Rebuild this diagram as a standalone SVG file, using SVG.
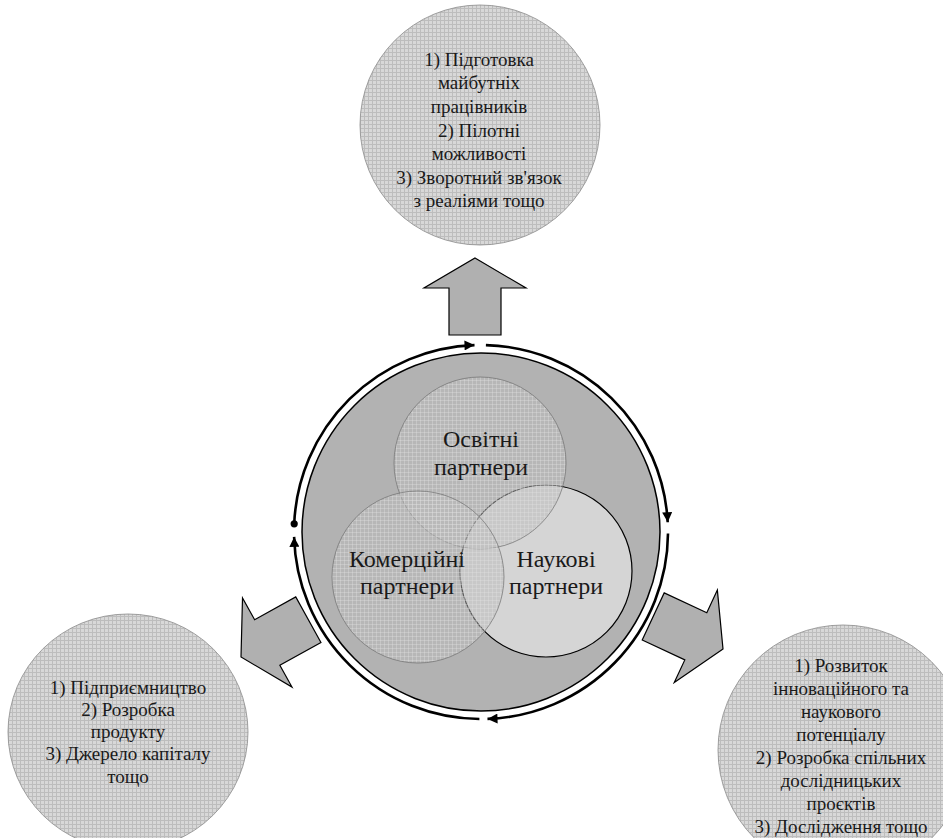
<svg xmlns="http://www.w3.org/2000/svg" width="943" height="838" viewBox="0 0 943 838">
<defs>
<pattern id="grid" width="4" height="4" patternUnits="userSpaceOnUse">
<rect width="4" height="4" fill="#d8d8d8"/>
<path d="M0,0.5 H4 M0.5,0 V4" stroke="#bdbdbd" stroke-width="1"/>
</pattern>
<pattern id="igrid" width="4" height="4" patternUnits="userSpaceOnUse">
<rect width="4" height="4" fill="#bcbcbc" fill-opacity="0.5"/>
<path d="M0,0.5 H4 M0.5,0 V4" stroke="#e2e2e2" stroke-opacity="0.35" stroke-width="1"/>
</pattern>
<marker id="ah" viewBox="0 0 10 10" refX="10" refY="5" markerWidth="13" markerHeight="10" markerUnits="userSpaceOnUse" orient="auto">
<path d="M0,0 L10,5 L0,10 z" fill="#000"/>
</marker>
<polygon id="blk" points="0,0 51,30 26,30 26,77 -26,77 -26,30 -51,30"/>
</defs>
<style>
.outer{fill:url(#grid);stroke:#8a8a8a;stroke-width:0.8}
.inner{fill:url(#igrid);stroke:#6e6e6e;stroke-width:0.7}
.blk{fill:#b0b0b0;stroke:#000;stroke-width:1.2;stroke-linejoin:miter}
.ring{fill:none;stroke:#000;stroke-width:2.6;marker-end:url(#ah)}
text{font-family:'Times New Roman','Liberation Serif','Noto Serif','DejaVu Serif',serif;fill:#1a1a1a;text-anchor:middle}
.s{font-size:19px}
.b{font-size:24px}
</style>
<rect width="943" height="838" fill="#fff"/>

<g id="core">
<circle cx="481" cy="532" r="179" fill="#b2b2b2" stroke="#000" stroke-width="1.5"/>
</g>
<g id="naukovi">
<circle cx="546" cy="571" r="86" fill="#d5d5d5" stroke="#000" stroke-width="1.2"/>
</g>
<g id="osvitni">
<circle class="inner" cx="480" cy="463" r="86"/>
</g>
<g id="komertsiini">
<circle class="inner" cx="418" cy="577" r="86"/>
</g>
<g id="labels-inner" class="b">
<text x="481" y="447">Освітні</text>
<text x="481" y="475">партнери</text>
<text x="407" y="567">Комерційні</text>
<text x="407" y="594">партнери</text>
<text x="556" y="567">Наукові</text>
<text x="556" y="594">партнери</text>
</g>

<g id="connectors">
<path class="ring" d="M485.9,345.1 A187,187 0 0 1 667.7,522.2"/>
<path class="ring" d="M668,533.6 A187,187 0 0 1 487.5,718.9"/>
<path class="ring" d="M479.4,719 A187,187 0 0 1 294.1,536.9"/>
<path class="ring" d="M294.2,523.8 A187,187 0 0 1 474.5,345.1"/>
<circle cx="294.2" cy="523.8" r="3.6" fill="#000"/>
<use href="#blk" class="blk" transform="translate(475,258)"/>
<use href="#blk" class="blk" transform="translate(241,657) rotate(-119)"/>
<use href="#blk" class="blk" transform="translate(723,649) rotate(115)"/>
</g>

<g id="top" class="s">
<circle class="outer" cx="480" cy="125" r="120"/>
<text x="479" y="66">1) Підготовка</text>
<text x="479" y="89">майбутніх</text>
<text x="479" y="113">працівників</text>
<text x="479" y="137">2) Пілотні</text>
<text x="479" y="160">можливості</text>
<text x="479" y="184">3) Зворотний зв'язок</text>
<text x="479" y="207">з реаліями тощо</text>
</g>

<g id="left" class="s">
<ellipse class="outer" cx="128" cy="732" rx="120" ry="118"/>
<text x="128" y="694">1) Підприємництво</text>
<text x="128" y="716">2) Розробка</text>
<text x="128" y="738">продукту</text>
<text x="128" y="760">3) Джерело капіталу</text>
<text x="128" y="783">тощо</text>
</g>

<g id="right" class="s">
<circle class="outer" cx="843" cy="750" r="125"/>
<text x="841" y="672">1) Розвиток</text>
<text x="841" y="695">інноваційного та</text>
<text x="841" y="718">наукового</text>
<text x="841" y="741">потенціалу</text>
<text x="841" y="764">2) Розробка спільних</text>
<text x="841" y="787">дослідницьких</text>
<text x="841" y="810">проєктів</text>
<text x="841" y="833">3) Дослідження тощо</text>
</g>
</svg>
